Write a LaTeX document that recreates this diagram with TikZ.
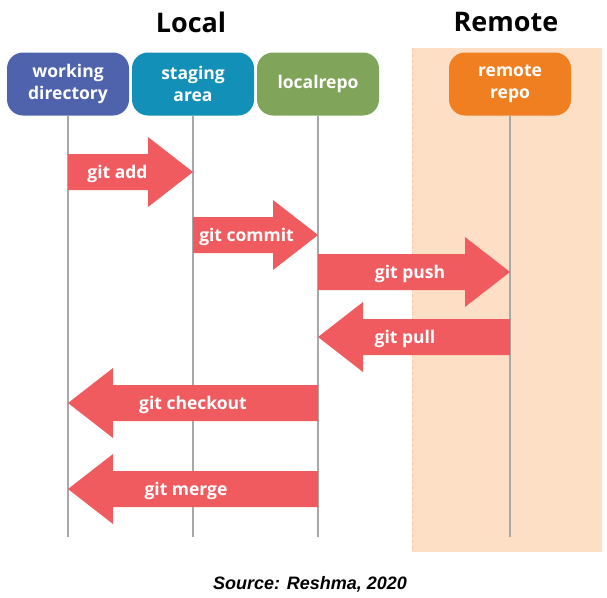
\documentclass[tikz,border=0pt]{standalone}
\usepackage{fontspec}
\setmainfont{Open Sans}
\newfontfamily\sourcefont{Liberation Sans}
\usetikzlibrary{calc}

\definecolor{wdblue}{HTML}{4F62AC}
\definecolor{sateal}{HTML}{1390B8}
\definecolor{lrgreen}{HTML}{80A55A}
\definecolor{rrorange}{HTML}{F07F22}
\definecolor{remotebg}{HTML}{FCDFC4}
\definecolor{remoteedge}{HTML}{F2C9A6}
\definecolor{gitred}{HTML}{F05B5F}
\definecolor{linegray}{HTML}{A8A8A8}

\tikzset{
  stage/.style = {draw=none, rounded corners=16pt, minimum width=122pt, minimum height=63pt,
                  text=white, align=center, font=\fontsize{17.5}{22}\selectfont\bfseries},
  lifeline/.style = {draw=linegray, line width=1.2pt},
  cmdarrow/.style = {fill=gitred},
  cmdlabel/.style = {text=white, yshift=-2pt, font=\fontsize{17.5}{20}\selectfont\bfseries},
  side/.style = {font=\fontsize{27}{30}\selectfont\bfseries}
}

% [label shift]{name}{from}{to}{y}{text}
\newcommand{\gitarrow}[6][0]{%
  \fill[cmdarrow] let \p1=(#3), \p2=(#4), \p3=(0,#5), \n1={(\x2-\x1)/abs(\x2-\x1)} in
    (\x1,\y3+18pt) -- ({\x2-\n1*45pt},\y3+18pt) -- ({\x2-\n1*45pt},\y3+35pt) -- (\x2,\y3)
    -- ({\x2-\n1*45pt},\y3-35pt) -- ({\x2-\n1*45pt},\y3-18pt) -- (\x1,\y3-18pt) -- cycle
    node[cmdlabel] (#2) at ({(\x1+\x2)/2+#1},\y3) {#6};
}

\begin{document}
\begin{tikzpicture}[x=1pt,y=-1pt]
\useasboundingbox (0,0) rectangle (607,597);

% remote side
\fill[remotebg] (412,48) rectangle (602,552);
\draw[remoteedge, dashed] (412,48) -- (412,552);

\node[side] (local) at (191,22) {Local};
\node[side] (remote) at (506,22) {Remote};

\node[stage, fill=wdblue] (wd) at (68,84) {working\\directory};
\node[stage, fill=sateal] (sa) at (193,84) {staging\\area};
\node[stage, fill=lrgreen] (lr) at (318,84) {localrepo};
\node[stage, fill=rrorange] (rr) at (510,84) {remote\\repo};

\coordinate (bottom) at (0,537);
\foreach \n in {wd,sa,lr,rr}
  \draw[lifeline] (\n.south) -- (\n.south |- bottom);

\gitarrow[-13]{add}{wd}{sa}{172}{git add}
\gitarrow[-9]{commit}{sa}{lr}{235}{git commit}
\gitarrow[-4]{push}{lr}{rr}{272}{git push}
\gitarrow[-9]{pull}{rr}{lr}{337}{git pull}
\gitarrow{checkout}{lr}{wd}{403}{git checkout}
\gitarrow[-7]{merge}{lr}{wd}{489}{git merge}

\node[font=\sourcefont\fontsize{18}{20}\selectfont\bfseries\itshape] (source) at (310,584) {Source: Reshma, 2020};
\end{tikzpicture}
\end{document}
